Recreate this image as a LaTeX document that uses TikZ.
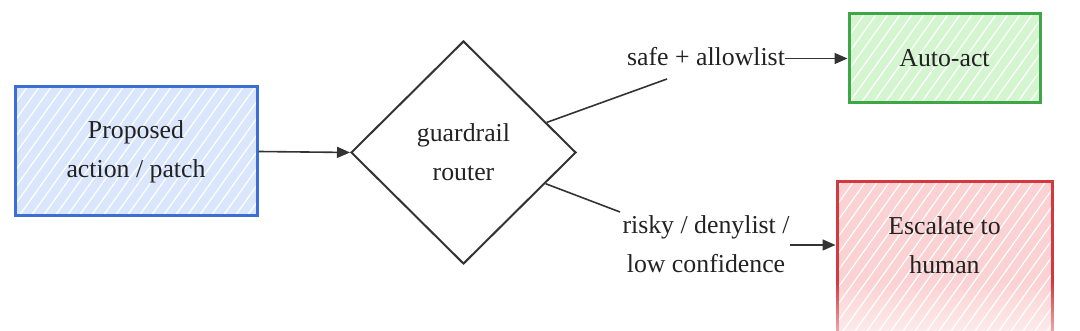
\documentclass[tikz,border=0pt]{standalone}
\usepackage{fontspec}
\setmainfont{Liberation Serif}
\usetikzlibrary{arrows.meta,shapes.geometric,fadings}
\definecolor{bblue}{HTML}{3B6FD4}
\definecolor{fblue}{HTML}{DAE6FB}
\definecolor{bgreen}{HTML}{3DA646}
\definecolor{fgreen}{HTML}{D5F5D1}
\definecolor{bred}{HTML}{D23A3F}
\definecolor{fred}{HTML}{FBD2D3}
\definecolor{ink}{HTML}{333333}
\definecolor{txt}{HTML}{222222}
\tikzfading[name=fadeup, top color=transparent!100, bottom color=transparent!45]
\begin{document}
\begin{tikzpicture}[x=1pt,y=1pt,
  every node/.style={font=\fontsize{25.8}{39}\selectfont, text=txt},
  boxnode/.style={rectangle, line width=3pt, align=center, inner sep=0pt},
  dianode/.style={diamond, draw=ink, line width=2pt, align=center, inner sep=0pt},
  lab/.style={align=center, inner sep=0pt},
  edge/.style={draw=ink, line width=1.6pt},
  arr/.style={edge, -{Triangle[length=13pt,width=11pt]}},
  hatch/.style={white, line width=1.2pt}
]
\useasboundingbox (0,0) rectangle (1080,331);
% hatched fills
\begin{scope}
  \clip (15,115) rectangle (257,244);
  \fill[fblue] (15,115) rectangle (257,244);
  \foreach \i in {-200,-188,...,260} \draw[hatch] (15+\i,115) -- ++(100,140);
\end{scope}
\begin{scope}
  \clip (849,228) rectangle (1040,317);
  \fill[fgreen] (849,228) rectangle (1040,317);
  \foreach \i in {-120,-108,...,200} \draw[hatch] (849+\i,228) -- ++(100,140);
\end{scope}
\begin{scope}
  \clip (837,0) rectangle (1052,149);
  \fill[fred] (837,0) rectangle (1052,149);
  \foreach \i in {-150,-138,...,230} \draw[hatch] (837+\i,0) -- ++(120,168);
\end{scope}
% nodes
\node[boxnode, draw=bblue, minimum width=242pt, minimum height=129pt] (prop) at (136,179.5) {Proposed\\action / patch};
\node[dianode, minimum width=225pt, minimum height=223pt] (dia) at (463.5,178.5) {guardrail\\router};
\node[boxnode, draw=bgreen, minimum width=191pt, minimum height=89pt] (auto) at (944.5,272.5) {Auto-act};
\node[boxnode, draw=bred, minimum width=215pt, minimum height=180pt] (esc) at (944.5,59) {};
\node[lab] (esctext) at (944.5,86) {Escalate to\\human};
\node[lab] (safe) at (706,274) {safe + allowlist};
\node[lab] (risky) at (706,87) {risky / denylist /\\low confidence};
\coordinate (c1) at (667,252);
\coordinate (c2) at (620,119);
% connectors
\draw[arr] (prop.east) -- (dia.west);
\draw[edge] (dia) -- (c1);
\draw[arr] (safe.east |- auto.west) -- (auto.west);
\draw[edge] (dia) -- (c2);
\draw[arr] (risky.east |- esctext) -- (esc.west |- esctext);
% faded bottom
\fill[white, path fading=fadeup] (815,0) rectangle (1075,49);
\end{tikzpicture}
\end{document}
